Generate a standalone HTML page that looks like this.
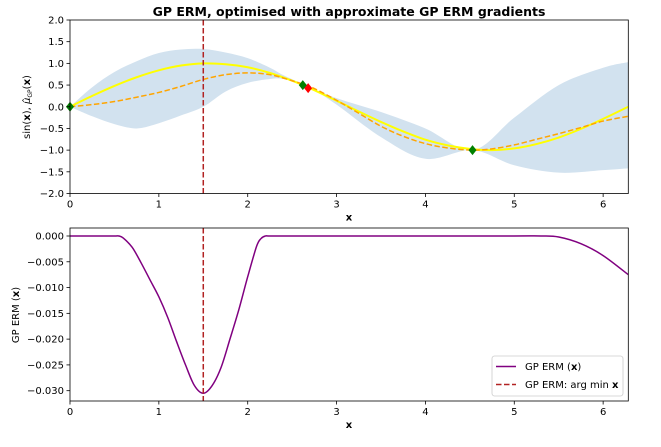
<!DOCTYPE html>
<html><head><meta charset="utf-8"><style>
body{margin:0;background:#fff;font-family:"Liberation Sans","DejaVu Sans",sans-serif;}
svg text{font-family:"DejaVu Sans","Liberation Sans",sans-serif;}
</style></head><body>
<svg id="c" width="661" height="442" viewBox="0 0 661 442" xmlns="http://www.w3.org/2000/svg"></svg>
<script>
const xs = [0,0.25,0.5,0.75,1.0,1.25,1.5,1.75,2.0,2.25,2.5,2.65,2.75,3.0,3.25,3.5,3.75,4.0,4.25,4.53,4.75,5.0,5.25,5.5,5.75,6.0,6.283];
const meanVals = [0,0.05,0.12,0.22,0.33,0.47,0.63,0.74,0.78,0.74,0.6,0.5,0.42,0.15,-0.15,-0.45,-0.68,-0.85,-0.95,-1.0,-0.97,-0.88,-0.75,-0.62,-0.48,-0.33,-0.22];
const sinVals = [0,0.25,0.48,0.68,0.84,0.95,1.0,0.98,0.91,0.78,0.6,0.47,0.38,0.14,-0.11,-0.35,-0.57,-0.76,-0.89,-0.98,-1.0,-0.96,-0.86,-0.71,-0.51,-0.28,0];
const bandX = [0,0.25,0.5,0.75,1.0,1.25,1.5,1.75,2.0,2.25,2.4,2.65,3.0,3.5,4.0,4.53,5.0,5.5,6.0,6.283];
const upperVals = [0,0.45,0.8,1.05,1.24,1.32,1.33,1.25,1.12,0.9,0.73,0.5,0.2,-0.12,-0.5,-1.0,-0.25,0.5,0.9,1.03];
const lowerVals = [0,-0.22,-0.4,-0.5,-0.38,-0.2,0,0.35,0.55,0.64,0.64,0.5,0.05,-0.7,-1.2,-1.0,-1.35,-1.52,-1.46,-1.42];
const ermX = [0,0.3,0.5,0.55,0.6,0.7,0.8,0.9,1.0,1.1,1.2,1.3,1.4,1.5,1.6,1.7,1.8,1.9,2.0,2.1,2.15,2.2,2.3,3,4,5,5.3,5.5,5.75,6.0,6.283];
const ermVals = [0,0,0,0,-0.0004,-0.0022,-0.0052,-0.0085,-0.0118,-0.0158,-0.0205,-0.025,-0.029,-0.0305,-0.029,-0.0255,-0.02,-0.0143,-0.0079,-0.002,-0.0005,0,0,0,0,0,0,-0.0002,-0.0015,-0.0038,-0.0075];
const trainX = [0,2.62,4.53];
const trainY = [0,0.5,-1.0];
const queryX = [2.68];
const queryY = [0.43];
const argMin = 1.5;
const xTicks = [0,1,2,3,4,5,6];
const yTicksTop = [2.0,1.5,1.0,0.5,0.0,-0.5,-1.0,-1.5,-2.0];
const yTicksBot = [0,-0.005,-0.01,-0.015,-0.02,-0.025,-0.03];

const svg=document.getElementById('c');
const NS='http://www.w3.org/2000/svg';
function el(tag,attrs,parent){const e=document.createElementNS(NS,tag);for(const k in attrs)e.setAttribute(k,attrs[k]);(parent||svg).appendChild(e);return e;}
const L=70,R=628.3;
const sx=v=>L+(v/6.2832)*(R-L);
const T1=20,B1=193.5; const sy1=v=>T1+(2-v)/4*(B1-T1);
const T2=228,B2=401,ymax=0.00155,ymin=-0.032; const sy2=v=>T2+(ymax-v)/(ymax-ymin)*(B2-T2);
function smooth(pts){let d='M'+pts[0][0]+','+pts[0][1];for(let i=0;i<pts.length-1;i++){const p0=pts[i-1]||pts[i],p1=pts[i],p2=pts[i+1],p3=pts[i+2]||p2;
d+=' C'+(p1[0]+(p2[0]-p0[0])/6)+','+(p1[1]+(p2[1]-p0[1])/6)+' '+(p2[0]-(p3[0]-p1[0])/6)+','+(p2[1]-(p3[1]-p1[1])/6)+' '+p2[0]+','+p2[1];}return d;}

let t=el('text',{x:349,y:16,'text-anchor':'middle','font-size':12.5,'font-weight':'bold',fill:'#000'});t.textContent='GP ERM, optimised with approximate GP ERM gradients';



const up=bandX.map((x,i)=>[sx(x),sy1(upperVals[i])]);
const lo=bandX.map((x,i)=>[sx(x),sy1(lowerVals[i])]).reverse();
let band=el('path',{d:smooth(up)+' L'+smooth(lo).slice(1)+' Z',fill:'#d2e2ef',stroke:'none'});


let sinL=el('path',{d:smooth(xs.map((x,i)=>[sx(x),sy1(sinVals[i])])),fill:'none',stroke:'#ffff00','stroke-width':2});


let meanL=el('path',{d:smooth(xs.map((x,i)=>[sx(x),sy1(meanVals[i])])),fill:'none',stroke:'#ffa500','stroke-width':1.5,'stroke-dasharray':'5.5,2.5'});


queryX.forEach((x,i)=>{const cx=sx(x),cy=sy1(queryY[i]);let m=el('path',{d:`M${cx},${cy-5}L${cx+4},${cy}L${cx},${cy+5}L${cx-4},${cy}Z`,fill:'#ff0000'});

});
trainX.forEach((x,i)=>{const cx=sx(x),cy=sy1(trainY[i]);let m=el('path',{d:`M${cx},${cy-5}L${cx+4},${cy}L${cx},${cy+5}L${cx-4},${cy}Z`,fill:'#008000'});

});
let v1=el('line',{x1:sx(argMin),x2:sx(argMin),y1:T1,y2:B1,stroke:'#b22222','stroke-width':1.5,'stroke-dasharray':'5.5,2.5'});



let erm=el('path',{d:smooth(ermX.map((x,i)=>[sx(x),sy2(ermVals[i])])),fill:'none',stroke:'#800080','stroke-width':1.5});


let v2=el('line',{x1:sx(argMin),x2:sx(argMin),y1:T2,y2:B2,stroke:'#b22222','stroke-width':1.5,'stroke-dasharray':'5.5,2.5'});



function axes(T,B,sy,yt,fmt,name){
  let f=el('rect',{x:L,y:T,width:R-L,height:B-T,fill:'none',stroke:'#000','stroke-width':0.8});
  
  
  xTicks.forEach(v=>{el('line',{x1:sx(v),x2:sx(v),y1:B,y2:B+3.5,stroke:'#000','stroke-width':0.8});
    let tx=el('text',{x:sx(v),y:B+14,'text-anchor':'middle','font-size':10,fill:'#000'});tx.textContent=v;
    
    });
  yt.forEach(v=>{el('line',{x1:L-3.5,x2:L,y1:sy(v),y2:sy(v),stroke:'#000','stroke-width':0.8});
    let tx=el('text',{x:L-6,y:sy(v)+3.5,'text-anchor':'end','font-size':10,fill:'#000'});tx.textContent=fmt(v);
    
    });
  let xl=el('text',{x:349,y:B+27,'text-anchor':'middle','font-size':10,'font-weight':'bold',fill:'#000'});xl.textContent='x';
  
  
}
const neg=s=>s.replace('-','\u2212');
axes(T1,B1,sy1,yTicksTop,v=>neg(v.toFixed(1)),'top');
axes(T2,B2,sy2,yTicksBot,v=>neg(v.toFixed(3)),'bottom');

let yl1=el('text',{transform:'translate(30,107) rotate(-90)','text-anchor':'middle','font-size':10,fill:'#000'});
yl1.innerHTML='sin(<tspan font-weight="bold">x</tspan>), <tspan font-style="italic">μ̂</tspan><tspan font-size="6" dy="2">GP</tspan><tspan dy="-2">(</tspan><tspan font-weight="bold">x</tspan>)';


let yl2=el('text',{transform:'translate(19,315) rotate(-90)','text-anchor':'middle','font-size':10,fill:'#000'});
yl2.innerHTML='GP ERM (<tspan font-weight="bold">x</tspan>)';



const lg=el('g',{});


el('rect',{x:492,y:356,width:131,height:40,rx:2.5,fill:'#fff',stroke:'#ccc','stroke-width':0.8},lg);
let e1=el('line',{x1:496,x2:516,y1:366.5,y2:366.5,stroke:'#800080','stroke-width':1.5},lg);


let lt1=el('text',{x:525,y:370,'font-size':10,fill:'#000'},lg);lt1.innerHTML='GP ERM (<tspan font-weight="bold">x</tspan>)';


let e2=el('line',{x1:496,x2:516,y1:384.5,y2:384.5,stroke:'#b22222','stroke-width':1.5,'stroke-dasharray':'5.5,2.5'},lg);


let lt2=el('text',{x:525,y:388,'font-size':10,fill:'#000'},lg);lt2.innerHTML='GP ERM: arg min <tspan font-weight="bold">x</tspan>';


</script>
</body></html>
